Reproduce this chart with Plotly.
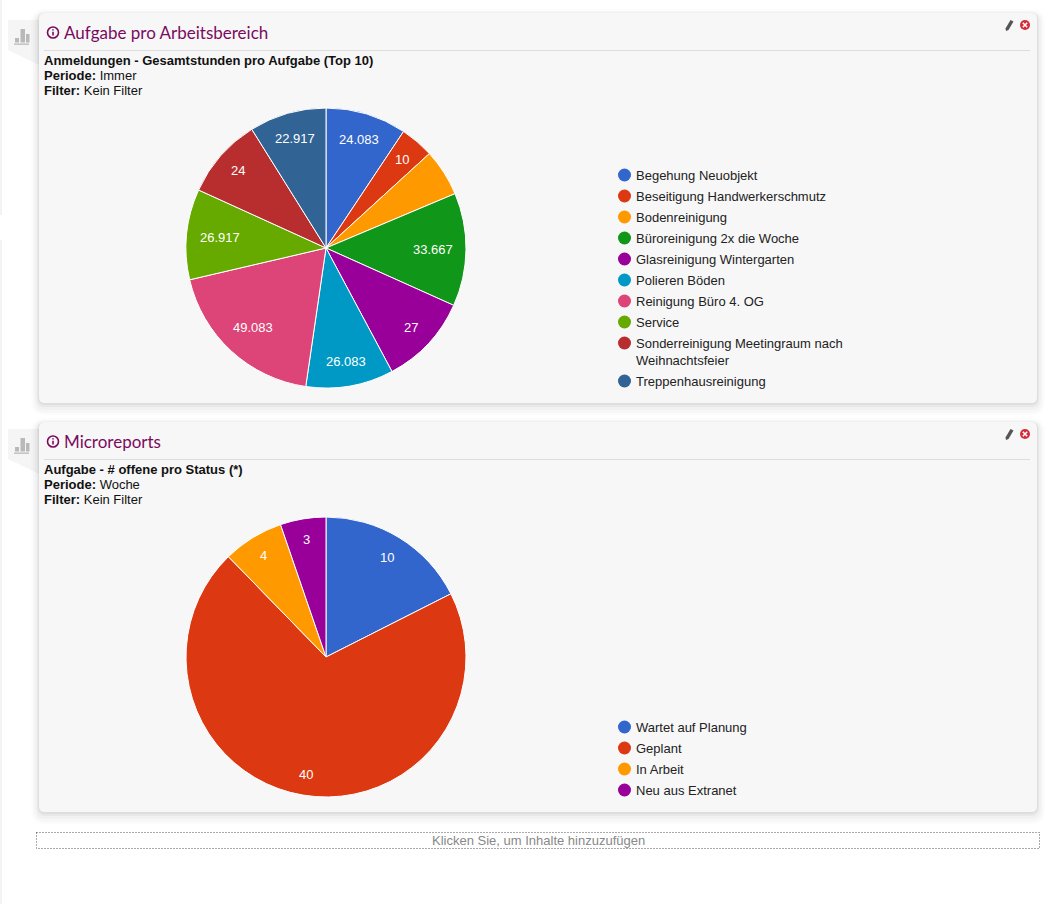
import math
import plotly.graph_objects as go

top_colors = ["#3366cc", "#dc3912", "#ff9900", "#109618", "#990099",
              "#0099c6", "#dd4477", "#66aa00", "#b82e2e", "#316395"]
bottom_colors = ["#3366cc", "#dc3912", "#ff9900", "#990099"]

top_title = "Aufgabe pro Arbeitsbereich"
top_sub = "Anmeldungen - Gesamtstunden pro Aufgabe (Top 10)"
top_period = "Immer"
top_labels = ["Begehung Neuobjekt", "Beseitigung Handwerkerschmutz", "Bodenreinigung",
              "Büroreinigung 2x die Woche", "Glasreinigung Wintergarten", "Polieren Böden",
              "Reinigung Büro 4. OG", "Service",
              "Sonderreinigung Meetingraum nach\nWeihnachtsfeier", "Treppenhausreinigung"]
top_values = [24.083, 10, 14, 33.667, 27, 26.083, 49.083, 26.917, 24, 22.917]
top_text = ["24.083", "10", "", "33.667", "27", "26.083", "49.083", "26.917", "24", "22.917"]

bottom_title = "Microreports"
bottom_sub = "Aufgabe - # offene pro Status (*)"
bottom_period = "Woche"
bottom_labels = ["Wartet auf Planung", "Geplant", "In Arbeit", "Neu aus Extranet"]
bottom_values = [10, 40, 4, 3]
bottom_text = ["10", "40", "4", "3"]

W, H = 1050, 904
R = 140
TITLE = "#7b0a5e"
fig = go.Figure()
shapes, notes = [], []


def rrect(x0, y0, x1, y1, r):
    return (f"M{x0+r},{y0} L{x1-r},{y0} Q{x1},{y0} {x1},{y0+r} L{x1},{y1-r} Q{x1},{y1} {x1-r},{y1} "
            f"L{x0+r},{y1} Q{x0},{y1} {x0},{y1-r} L{x0},{y0+r} Q{x0},{y0} {x0+r},{y0} Z")


def shape(**k):
    shapes.append(dict(xref="x", yref="y", layer="below", **k))


def text(x, y, s, size=13, color="#222", family="Liberation Sans", anchor="left"):
    notes.append(dict(x=x, y=y, xref="x", yref="y", text=s, showarrow=False, xanchor=anchor,
                      yanchor="middle", align="left",
                      font=dict(size=size, color=color, family=family)))


def text_radius(s, c, w, h, rc=127.0):
    a = s * s + c * c
    b = 2 * (s * w + c * h)
    d = w * w + h * h - rc * rc
    return (-b + math.sqrt(b * b - 4 * a * d)) / (2 * a)


def panel(y0, title, sub, period, labels, values, labels_text, colors, cy, legend_top):
    y1 = y0 + 390
    # tab and icon
    shape(type="path", path=f"M8,{y0+7} L39,{y0+7} L39,{y0+52} L8,{y0+37} Z",
          fillcolor="#f5f5f5", line=dict(width=0))
    for bx, bt, bw in [(15, y0 + 25, 4), (20.5, y0 + 16, 4.5), (26, y0 + 21, 3.5)]:
        shape(type="rect", x0=bx, x1=bx + bw, y0=bt, y1=y0 + 29.5, fillcolor="#b9b9b9", line=dict(width=0))
    shape(type="rect", x0=14, x1=29, y0=y0 + 30.5, y1=y0 + 31.8, fillcolor="#b9b9b9", line=dict(width=0))
    # shadow
    for grow, dy, alpha in [(8, 4, .012), (6, 4, .018), (4, 3, .025), (2, 2, .035), (1, 1, .04)]:
        shape(type="path", path=rrect(39 - grow, y0 - grow + dy, 1037 + grow, y1 + grow + dy, 6 + grow),
              fillcolor=f"rgba(0,0,0,{alpha})", line=dict(width=0))
    shape(type="path", path=rrect(39, y0, 1037, y1, 6), fillcolor="#f7f7f7", line=dict(width=0))
    shape(type="line", x0=44, x1=1030, y0=y0 + 37.5, y1=y0 + 37.5, line=dict(color="#dddddd", width=1))
    # title row
    shape(type="circle", x0=47.5, x1=58.5, y0=y0 + 14, y1=y0 + 25, line=dict(color=TITLE, width=1.6))
    shape(type="line", x0=53, x1=53, y0=y0 + 18.8, y1=y0 + 22.5, line=dict(color=TITLE, width=1.6))
    shape(type="line", x0=53, x1=53, y0=y0 + 16.2, y1=y0 + 17.6, line=dict(color=TITLE, width=1.6))
    text(62, y0 + 19.5, title, size=17, color=TITLE, family="Lato")
    text(42, y0 + 47, f"<b>{sub}</b>", color="#111")
    text(42, y0 + 62.5, f"<b>Periode:</b> {period}", color="#111")
    text(42, y0 + 77.5, "<b>Filter:</b> Kein Filter", color="#111")
    # edit / close
    shape(type="path", path=f"M1005.5,{y0+15.5} L1010.5,{y0+7} L1013.5,{y0+8.5} L1008.5,{y0+17} L1006,{y0+18} Z",
          fillcolor="#555", line=dict(width=0))
    shape(type="circle", x0=1020, x1=1030, y0=y0 + 7, y1=y0 + 17, fillcolor="#d22c3a", line=dict(width=0))
    shape(type="line", x0=1022.8, x1=1027.2, y0=y0 + 9.8, y1=y0 + 14.2, line=dict(color="#fff", width=1.5))
    shape(type="line", x0=1027.2, x1=1022.8, y0=y0 + 9.8, y1=y0 + 14.2, line=dict(color="#fff", width=1.5))
    # pie
    cx = 326
    fig.add_trace(go.Pie(labels=[l.replace("\n", " ") for l in labels], values=values, sort=False,
                         direction="clockwise", rotation=0, textinfo="none", showlegend=False,
                         marker=dict(colors=colors, line=dict(color="#ffffff", width=1)),
                         domain=dict(x=[(cx - R) / W, (cx + R) / W], y=[1 - (cy + R) / H, 1 - (cy - R) / H])))
    # slice labels
    total = sum(values)
    run = 0
    for v, s in zip(values, labels_text):
        mid = (run + v / 2) / total * 2 * math.pi
        run += v
        if not s:
            continue
        w = sum(3.6 if ch == "." else 7.23 for ch in s) / 2
        sn, cs = math.sin(mid), math.cos(mid)
        r = text_radius(abs(sn), abs(cs), w, 7)
        text(cx + r * sn, cy - r * cs, s, color="#ffffff", anchor="center")
    # legend
    xs, ys = [], []
    y = legend_top
    for lab in labels:
        xs.append(624.5); ys.append(y)
        parts = lab.split("\n")
        for j, part in enumerate(parts):
            text(634, y + 0.5, part, color="#222222")
            if j < len(parts) - 1:
                y += 17
        y += 21
    fig.add_trace(go.Scatter(x=xs, y=ys, mode="markers", showlegend=False, hoverinfo="skip",
                             marker=dict(size=13, color=colors, line=dict(width=0))))


# page edge shadow
shape(type="rect", x0=0, x1=2, y0=0, y1=215, fillcolor="#f3f3f3", line=dict(width=0))
shape(type="rect", x0=0, x1=2, y0=240, y1=904, fillcolor="#f3f3f3", line=dict(width=0))

panel(13, top_title, top_sub, top_period, top_labels, top_values, top_text, top_colors, 248, 175)
panel(422, bottom_title, bottom_sub, bottom_period, bottom_labels, bottom_values, bottom_text, bottom_colors, 657, 727)

shape(type="rect", x0=36.5, x1=1039.5, y0=832.5, y1=848.5, line=dict(color="#555", width=1, dash="1px,2px"))
text(538, 840.5, "Klicken Sie, um Inhalte hinzuzufügen", color="#888888", anchor="center")

fig.update_layout(width=W, height=H, margin=dict(l=0, r=0, t=0, b=0), paper_bgcolor="#ffffff",
                  plot_bgcolor="#ffffff", shapes=shapes, annotations=notes, showlegend=False,
                  xaxis=dict(range=[0, W], visible=False, fixedrange=True),
                  yaxis=dict(range=[H, 0], visible=False, fixedrange=True))
fig.write_html("out.html", config=dict(displayModeBar=False),
               post_script="document.body.style.margin='0';document.body.style.overflow='hidden';")
